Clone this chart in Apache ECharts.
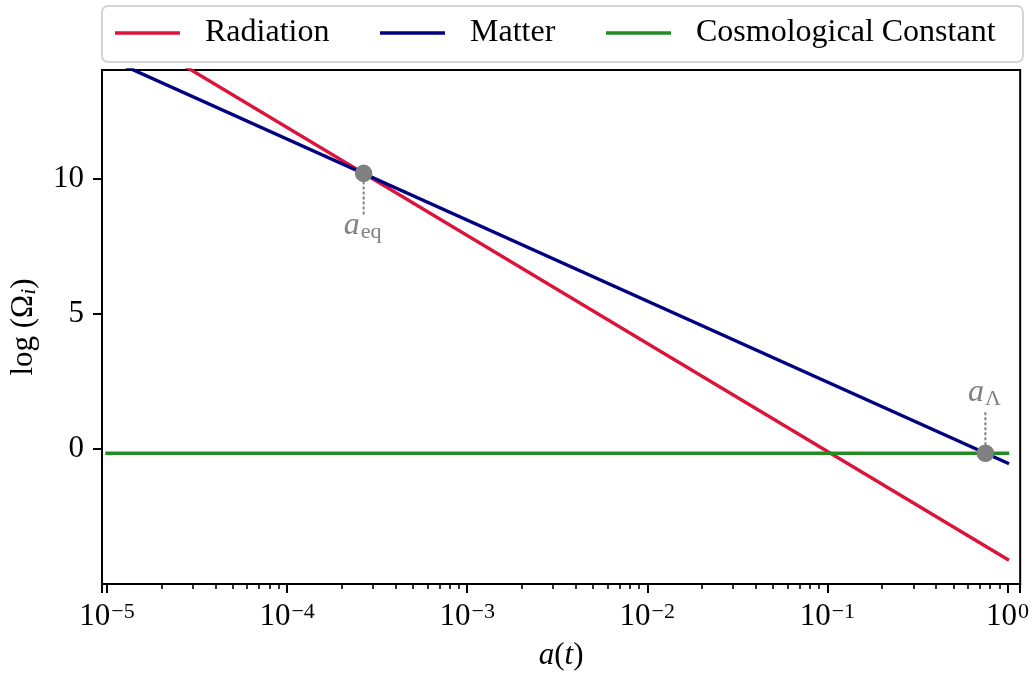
<!DOCTYPE html>
<html>
<head>
<meta charset="utf-8">
<script src="https://cdn.jsdelivr.net/npm/echarts@6/dist/echarts.min.js"></script>
<style>
  html, body { margin: 0; padding: 0; background: #ffffff; }
  #chart { width: 1032px; height: 677px; }
</style>
</head>
<body>
<div id="chart"></div>
<script>
// Scale factor a(t) at the two ends of each density line
const scaleFactor = [1e-5, 1];
// log10 of each density parameter at those scale factors
const radiation = [15.91, -4.09];
const matter = [14.48, -0.52];
const cosmologicalConstant = [-0.155, -0.155];
// Marked epochs: [a, log Ω, subscript of the label]
const epochs = [
  [2.66e-4, 10.21, 'eq'],
  [0.754, -0.155, 'Λ']
];
const seriesNames = ['Radiation', 'Matter', 'Cosmological Constant'];
const seriesColors = ['#dc143c', '#000080', '#228b22'];

const FONT = '"Liberation Serif", "DejaVu Serif", serif';
const GREY = '#808080';

const chart = echarts.init(document.getElementById('chart'), null, { renderer: 'canvas' });

const lineSeries = [radiation, matter, cosmologicalConstant].map((vals, i) => ({
  name: seriesNames[i],
  type: 'line',
  data: scaleFactor.map((a, j) => [a, vals[j]]),
  symbol: 'none',
  lineStyle: { color: seriesColors[i], width: 3.4, cap: 'square' },
  itemStyle: { color: seriesColors[i] },
  z: 3
}));

// 'below' puts the label under the point, 'above' over it
const labelSide = ['below', 'above'];

const epochSeries = {
  type: 'custom',
  coordinateSystem: 'cartesian2d',
  data: epochs.map(e => [e[0], e[1]]),
  z: 10,
  renderItem: (params, api) => {
    const p = api.coord([api.value(0), api.value(1)]);
    const below = labelSide[params.dataIndex] === 'below';
    const sign = below ? 1 : -1;
    const sub = epochs[params.dataIndex][2];
    return {
      type: 'group',
      children: [
        {
          type: 'line',
          shape: { x1: p[0], y1: p[1] + sign * 8, x2: p[0], y2: p[1] + sign * 41 },
          style: { stroke: GREY, lineWidth: 2, lineDash: [3, 2] }
        },
        {
          type: 'circle',
          shape: { cx: p[0], cy: p[1], r: 8.8 },
          style: { fill: GREY }
        },
        {
          type: 'text',
          x: p[0] - 1,
          y: p[1] + (below ? 52 : -61),
          style: {
            text: '{a|a}{s|' + sub + '}',
            align: 'center',
            verticalAlign: 'middle',
            rich: {
              a: { fontFamily: FONT, fontStyle: 'italic', fontSize: 32, fill: GREY, color: GREY },
              s: { fontFamily: FONT, fontSize: 22, fill: GREY, color: GREY, padding: [14, 0, 0, 1] }
            }
          }
        }
      ]
    };
  }
};

const legendLeft = [115, 380, 606];

const option = {
  animation: false,
  backgroundColor: '#ffffff',
  graphic: [{
    type: 'rect',
    left: 101,
    top: 5,
    z: 0,
    shape: { width: 921, height: 56, r: 6 },
    style: { fill: '#ffffff', stroke: '#d4d4d4', lineWidth: 2 }
  }],
  legend: seriesNames.map((name, i) => ({
    data: [name],
    left: legendLeft[i],
    top: 17,
    padding: 0,
    icon: 'rect',
    itemWidth: 65,
    itemHeight: 3.4,
    selectedMode: false,
    textStyle: { fontFamily: FONT, fontSize: 32, color: '#000', padding: [0, 0, 0, 20] }
  })),
  grid: {
    left: 102,
    right: 10,
    top: 70,
    bottom: 93,
    show: true,
    borderColor: '#000',
    borderWidth: 2,
    containLabel: false
  },
  xAxis: {
    type: 'log',
    logBase: 10,
    min: 9.376e-6,
    max: 1.176,
    name: '{i|a}{n|(}{i|t}{n|)}',
    nameLocation: 'middle',
    nameGap: 56,
    nameTextStyle: {
      rich: {
        i: { fontFamily: FONT, fontStyle: 'italic', fontSize: 31, color: '#000' },
        n: { fontFamily: FONT, fontSize: 31, color: '#000' }
      }
    },
    axisLine: { show: true, onZero: false, lineStyle: { color: '#000', width: 2 } },
    axisTick: { show: true, inside: false, length: 9, lineStyle: { color: '#000', width: 2 } },
    minorTick: { show: true, splitNumber: 9, length: 5, lineStyle: { color: '#000', width: 1.6 } },
    splitLine: { show: false },
    minorSplitLine: { show: false },
    axisLabel: {
      margin: 17,
      showMinLabel: false,
      showMaxLabel: false,
      formatter: v => {
        const e = Math.log10(v);
        if (Math.abs(e - Math.round(e)) > 1e-6) return '';
        const n = Math.round(e);
        return '{b|10}{s|' + (n < 0 ? '\u2212' + (-n) : n) + '}';
      },
      rich: {
        b: { fontFamily: FONT, fontSize: 31, color: '#000' },
        s: { fontFamily: FONT, fontSize: 22, color: '#000', padding: [0, 0, 10, 1] }
      }
    }
  },
  yAxis: {
    type: 'value',
    min: -5,
    max: 14.04,
    interval: 5,
    name: '{n|log (\u03A9}{s|i}{n|)}',
    nameLocation: 'middle',
    nameGap: 62,
    nameTextStyle: {
      rich: {
        n: { fontFamily: FONT, fontSize: 31, color: '#000' },
        s: { fontFamily: FONT, fontStyle: 'italic', fontSize: 22, color: '#000', padding: [10, 0, 0, 0] }
      }
    },
    axisLine: { show: true, onZero: false, lineStyle: { color: '#000', width: 2 } },
    axisTick: { show: true, inside: false, length: 9, lineStyle: { color: '#000', width: 2 } },
    splitLine: { show: false },
    axisLabel: {
      margin: 18,
      showMinLabel: false,
      showMaxLabel: false,
      fontFamily: FONT,
      fontSize: 31,
      color: '#000',
      formatter: v => (Math.abs(v % 5) < 1e-9 ? String(v) : '')
    }
  },
  series: [...lineSeries, epochSeries]
};

chart.setOption(option);
</script>
</body>
</html>
